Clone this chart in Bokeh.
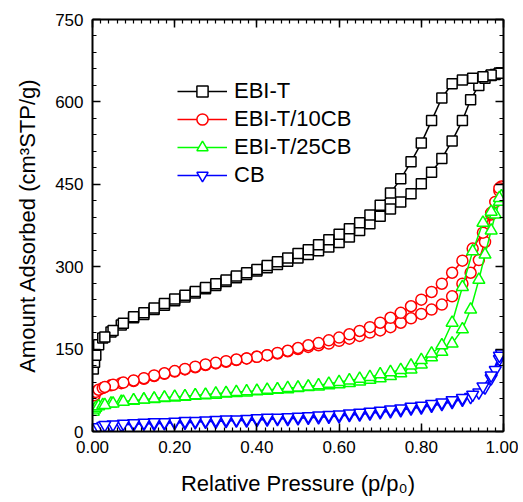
from bokeh.plotting import figure
from bokeh.models import (Range1d, LinearAxis, SingleIntervalTicker, Legend, LegendItem,
                          CustomJSTickFormatter)
from bokeh.embed import file_html
from bokeh.resources import INLINE

# ---------------- data ----------------
ads_x = [0.002, 0.005, 0.008, 0.015, 0.025, 0.045, 0.07,
         0.10, 0.125, 0.15, 0.175, 0.20, 0.225, 0.25, 0.275, 0.30, 0.325,
         0.35, 0.375, 0.40, 0.425, 0.45, 0.475, 0.50, 0.525, 0.55, 0.575,
         0.60, 0.625, 0.65, 0.675, 0.70, 0.725, 0.75, 0.775, 0.80, 0.825,
         0.85, 0.875, 0.90,
         0.92, 0.94, 0.955, 0.97, 0.98, 0.99, 0.995]
des_x = [0.99, 0.97, 0.95,
         0.925, 0.90, 0.875, 0.85, 0.825, 0.80, 0.775, 0.75, 0.725, 0.70,
         0.675, 0.65, 0.625, 0.60, 0.575, 0.55, 0.525, 0.50, 0.475, 0.45,
         0.425, 0.40, 0.375, 0.35, 0.325, 0.30, 0.275, 0.25, 0.225, 0.20,
         0.175, 0.15, 0.125, 0.10, 0.075, 0.05,
         0.03]

ebit_ads = [114, 126, 139, 158, 170, 181, 194,
            207, 213, 222, 230, 238, 245, 252, 260, 266, 273, 280, 286, 292, 298,
            304, 310, 316, 322, 329, 336, 344, 354, 366, 378, 392, 405, 418, 433,
            451, 472, 497, 529, 566,
            604, 630, 643, 648, 650, 652, 653]
ebit_des = [652, 649, 646,
            643, 640, 633, 607, 566, 525, 491, 460, 434, 412, 394, 380, 369, 359,
            349, 340, 331, 324, 316, 309, 302, 295, 289, 283, 276, 269, 262, 255,
            248, 241, 233, 225, 216, 209, 197, 184,
            172]

cb10_ads = [57, 66, 72, 76, 79, 84, 88,
            92, 96, 101, 105, 109, 113, 117, 121, 124, 127, 130, 133, 136, 139,
            142, 146, 150, 154, 157, 160, 165, 169, 174, 180, 184, 190, 198, 206,
            214, 222, 231, 246, 269,
            289, 312, 345, 395, 418, 438, 446]
cb10_des = [443, 398, 362,
            333, 311, 289, 269, 254, 240, 228, 216, 207, 198, 190, 183, 177, 171,
            166, 161, 157, 152, 147, 143, 139, 136, 133, 131, 128, 125, 122, 118,
            114, 110, 106, 102, 97, 93, 89, 85,
            81]

cb25_ads = [36, 40, 43, 46, 48, 51, 54,
            56, 58, 59, 61, 62, 63, 65, 66, 67, 69, 70, 71, 73, 74,
            76, 77, 79, 81, 82, 84, 86, 88, 91, 94, 97, 101, 106, 113,
            122, 135, 145, 160, 186,
            222, 276, 322, 366, 395, 418, 428]
cb25_des = [425, 400, 380,
            328, 263, 198, 157, 142, 130, 120, 112, 108, 104, 99, 96, 93, 90,
            87, 84, 82, 80, 79, 77, 76, 74, 73, 72, 70, 69, 67, 66,
            64, 63, 62, 60, 58, 57, 54, 51,
            48]

cb_ads = [3, 5, 6, 8, 10, 11, 12,
          13, 14, 14, 15, 16, 16, 17, 18, 18, 19, 20, 20, 21, 22,
          23, 23, 24, 25, 26, 27, 28, 30, 31, 33, 35, 37, 39, 42,
          44, 47, 50, 54, 58,
          63, 71, 80, 97, 112, 132, 142]
cb_des = [138, 102, 82,
          67, 61, 57, 53, 50, 47, 45, 42, 40, 38, 36, 34, 33, 31,
          30, 29, 28, 27, 26, 25, 25, 24, 23, 22, 22, 21, 20, 19,
          19, 18, 17, 17, 16, 15, 14, 13,
          12]

series_names = ["EBI-T", "EBI-T/10CB", "EBI-T/25CB", "CB"]
series_colors = ["#000000", "#FF0000", "#00FF00", "#0000FF"]
series_markers = ["square", "circle", "triangle", "inverted_triangle"]
series_sizes = [10, 11, 12, 12]
series_y = [ebit_ads + ebit_des, cb10_ads + cb10_des, cb25_ads + cb25_des, cb_ads + cb_des]
all_x = ads_x + des_x

x_ticks_interval = 0.2
y_ticks_interval = 150

FONT = "Liberation Sans"

p = figure(width=518, height=500, output_backend="svg", toolbar_location=None,
           x_range=Range1d(0, 1.0), y_range=Range1d(0, 750),
           min_border_left=92, min_border_right=15, min_border_top=19, min_border_bottom=69,
           background_fill_color="white", border_fill_color="white")
p.xgrid.visible = False
p.ygrid.visible = False
p.outline_line_color = None

def style_axis(ax, labels=True):
    ax.axis_line_width = 2
    ax.axis_line_color = "black"
    ax.major_tick_in = 8
    ax.major_tick_out = 0
    ax.minor_tick_in = 4
    ax.minor_tick_out = 0
    ax.major_tick_line_width = 1.5
    ax.minor_tick_line_width = 1.2
    ax.major_tick_line_color = "black"
    ax.minor_tick_line_color = "black"
    ax.major_label_text_font = FONT
    ax.major_label_text_font_size = "17px"
    ax.major_label_text_color = "black"
    ax.axis_label_text_font = FONT
    ax.axis_label_text_font_size = "22px"
    ax.axis_label_text_font_style = "normal"
    ax.axis_label_text_color = "black"
    if not labels:
        ax.formatter = CustomJSTickFormatter(code="return ''")
        ax.major_label_standoff = 0

xt = SingleIntervalTicker(interval=x_ticks_interval, num_minor_ticks=10)
yt = SingleIntervalTicker(interval=y_ticks_interval, num_minor_ticks=5)

xa = p.xaxis[0]
xa.ticker = xt
xa.formatter = CustomJSTickFormatter(code="return tick.toFixed(2)")
xa.axis_label = "Relative Pressure (p/p\u2080)"
xa.major_label_standoff = 9
xa.axis_label_standoff = 15
style_axis(xa)

ya = p.yaxis[0]
ya.ticker = yt
ya.axis_label = "Amount Adsorbed (cm\u00b3STP/g)"
ya.major_label_standoff = 9
ya.axis_label_standoff = 12
style_axis(ya)

top = LinearAxis(ticker=SingleIntervalTicker(interval=x_ticks_interval, num_minor_ticks=10))
style_axis(top, labels=False)
p.add_layout(top, "above")
right = LinearAxis(ticker=SingleIntervalTicker(interval=y_ticks_interval, num_minor_ticks=5))
style_axis(right, labels=False)
p.add_layout(right, "right")

items = []
for name, col, mk, sz, ys in zip(series_names, series_colors, series_markers, series_sizes, series_y):
    ln = p.line(all_x, ys, line_color=col, line_width=1.5)
    sc = p.scatter(all_x, ys, marker=mk, size=sz, line_color=col, line_width=1.5,
                   fill_color="white")
    items.append(LegendItem(label=name, renderers=[ln, sc]))

legend = Legend(items=items, location=(85, 242), padding=0, margin=0, spacing=0,
                glyph_width=50, glyph_height=28, label_height=28, label_standoff=7,
                label_text_font=FONT, label_text_font_size="22px", label_text_color="black",
                border_line_color=None, background_fill_alpha=0)
p.add_layout(legend)

open("out.html", "w").write(file_html(p, INLINE))
